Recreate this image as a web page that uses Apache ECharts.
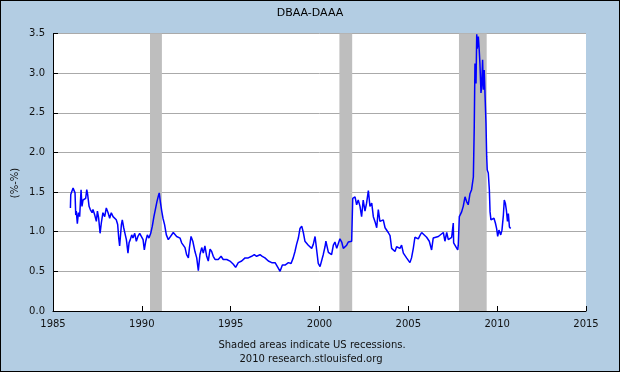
<!DOCTYPE html>
<html>
<head>
<meta charset="utf-8">
<script src="https://cdn.jsdelivr.net/npm/echarts@6/dist/echarts.min.js"></script>
<style>
html,body{margin:0;padding:0;background:#B3CDE3;}
#chart{position:absolute;left:0;top:0;width:620px;height:372px;}
#frame{position:absolute;left:0;top:0;width:620px;height:372px;box-sizing:border-box;border:1px solid #000;pointer-events:none;}
</style>
</head>
<body>
<div id="chart"></div>
<div id="frame"></div>
<script>
const years = [
1985.98,1986.00,1986.05,1986.13,1986.18,1986.24,1986.28,1986.31,1986.37,1986.43,
1986.50,1986.58,1986.63,1986.69,1986.76,1986.84,1986.90,1986.95,1987.03,1987.10,
1987.20,1987.25,1987.35,1987.44,1987.50,1987.57,1987.65,1987.72,1987.81,1987.91,
1988.00,1988.10,1988.19,1988.28,1988.38,1988.47,1988.56,1988.64,1988.70,1988.75,
1988.85,1988.90,1988.98,1989.05,1989.13,1989.22,1989.28,1989.35,1989.43,1989.50,
1989.60,1989.69,1989.78,1989.88,1989.97,1990.07,1990.14,1990.22,1990.31,1990.40,
1990.50,1990.59,1990.68,1990.78,1990.85,1990.93,1990.98,1991.04,1991.12,1991.19,
1991.28,1991.38,1991.49,1991.59,1991.77,1991.96,1992.15,1992.24,1992.33,1992.43,
1992.52,1992.62,1992.68,1992.77,1992.87,1992.99,1993.09,1993.18,1993.27,1993.37,
1993.46,1993.55,1993.65,1993.74,1993.84,1993.93,1994.02,1994.12,1994.30,1994.46,
1994.58,1994.78,1994.96,1995.15,1995.28,1995.43,1995.62,1995.81,1995.99,1996.18,
1996.33,1996.46,1996.65,1996.78,1996.93,1997.12,1997.31,1997.50,1997.68,1997.78,
1997.91,1998.06,1998.25,1998.40,1998.52,1998.62,1998.71,1998.81,1998.90,1999.00,
1999.09,1999.18,1999.37,1999.56,1999.65,1999.75,1999.80,1999.93,2000.03,2000.21,
2000.31,2000.36,2000.50,2000.68,2000.78,2000.87,2000.97,2001.06,2001.15,2001.25,
2001.34,2001.53,2001.62,2001.81,2001.87,2002.00,2002.09,2002.18,2002.28,2002.37,
2002.46,2002.56,2002.65,2002.75,2002.84,2002.94,2003.03,2003.12,2003.22,2003.31,
2003.40,2003.50,2003.59,2003.69,2003.78,2003.87,2003.97,2004.06,2004.15,2004.25,
2004.34,2004.43,2004.53,2004.62,2004.72,2004.81,2004.90,2005.00,2005.09,2005.18,
2005.28,2005.37,2005.46,2005.56,2005.65,2005.75,2005.84,2006.03,2006.18,2006.31,
2006.40,2006.50,2006.69,2006.97,2007.06,2007.16,2007.25,2007.34,2007.44,2007.53,
2007.55,2007.68,2007.78,2007.81,2007.87,2008.00,2008.09,2008.19,2008.28,2008.37,
2008.47,2008.56,2008.66,2008.71,2008.75,2008.81,2008.85,2008.88,2008.94,2008.99,
2009.03,2009.09,2009.13,2009.18,2009.22,2009.27,2009.33,2009.37,2009.41,2009.44,
2009.50,2009.56,2009.60,2009.65,2009.75,2009.82,2009.90,2009.97,2010.03,2010.10,
2010.20,2010.27,2010.35,2010.40,2010.46,2010.52,2010.58,2010.63,2010.69,2010.76
];
// DBAA-DAAA spread values (%-%)
const spread = [
1.30,1.47,1.45,1.55,1.57,1.49,1.21,1.26,1.10,1.24,
1.19,1.53,1.32,1.40,1.38,1.42,1.53,1.47,1.32,1.28,
1.24,1.28,1.21,1.13,1.26,1.17,0.98,1.11,1.24,1.19,
1.30,1.24,1.17,1.24,1.19,1.21,1.15,1.09,0.92,0.82,
1.09,1.15,1.05,0.98,0.90,0.73,0.86,0.90,0.96,0.92,
0.98,0.88,0.94,0.98,0.96,0.90,0.77,0.88,0.96,0.92,
0.98,1.07,1.19,1.30,1.38,1.45,1.49,1.38,1.26,1.17,
1.09,0.96,0.90,0.88,0.99,0.94,0.92,0.86,0.84,0.80,
0.71,0.67,0.80,0.94,0.88,0.75,0.67,0.51,0.71,0.80,
0.73,0.82,0.69,0.63,0.78,0.75,0.69,0.65,0.65,0.69,
0.65,0.65,0.63,0.59,0.55,0.61,0.63,0.67,0.67,0.69,
0.71,0.69,0.71,0.69,0.67,0.63,0.61,0.61,0.54,0.50,
0.58,0.58,0.61,0.60,0.67,0.75,0.84,0.92,1.04,1.07,
0.99,0.88,0.83,0.79,0.84,0.94,0.96,0.60,0.56,0.71,
0.81,0.88,0.74,0.71,0.83,0.87,0.79,0.77,0.91,0.87,
0.79,0.83,0.87,0.88,1.42,1.44,1.34,1.40,1.32,1.19,
1.40,1.26,1.36,1.52,1.32,1.36,1.19,1.13,1.05,1.28,
1.13,1.11,1.15,1.05,1.06,0.99,0.95,0.79,0.81,0.75,
0.81,0.83,0.79,0.83,0.73,0.71,0.67,0.69,0.61,0.67,
0.79,0.93,0.91,0.91,0.95,0.99,0.99,0.93,0.88,0.77,
0.92,0.93,0.94,0.99,0.88,0.99,0.90,0.91,0.93,1.11,
0.86,0.81,0.77,0.83,1.19,1.25,1.32,1.44,1.38,1.34,
1.48,1.53,1.69,2.32,3.12,2.87,3.49,3.31,3.46,3.29,
3.12,2.75,2.85,3.17,2.79,3.04,2.64,2.37,1.95,1.78,
1.74,1.53,1.25,1.15,1.13,1.17,1.11,1.04,0.94,1.02,
0.96,1.02,1.21,1.40,1.36,1.27,1.13,1.23,1.06,1.04
];
// Recession periods (start, end) in decimal years
const recessionStart = [1990.46, 2001.12, 2007.85];
const recessionEnd   = [1991.13, 2001.84, 2009.41];
const xTicks = [1985, 2015, 5];   // min, max, step
const yTicks = [0, 3.5, 0.5];      // min, max, step

const FONT = 'DejaVu Sans';
const chart = echarts.init(document.getElementById('chart'), null, {renderer: 'canvas'});
const lineData = years.map((y, i) => [y, spread[i]]);
const areas = recessionStart.map((s, i) => [{xAxis: s}, {xAxis: recessionEnd[i]}]);

chart.setOption({
  backgroundColor: '#B3CDE3',
  animation: false,
  title: {
    text: 'DBAA-DAAA', left: 'center', top: 3,
    textStyle: {fontFamily: FONT, fontSize: 11, fontWeight: 'normal', color: '#000'}
  },
  grid: {left: 53, right: 34, top: 33.5, bottom: 61, show: true, backgroundColor: '#ffffff', borderWidth: 0},
  xAxis: {
    type: 'value', min: xTicks[0], max: xTicks[1], interval: xTicks[2],
    axisLine: {show: true, lineStyle: {color: '#000', width: 1}},
    axisTick: {show: true, inside: true, length: 5, lineStyle: {color: '#000'}},
    axisLabel: {fontFamily: FONT, fontSize: 10, color: '#111', margin: 8, formatter: v => String(v)},
    splitLine: {show: false}
  },
  yAxis: {
    type: 'value', min: yTicks[0], max: yTicks[1], interval: yTicks[2],
    axisLine: {show: true, lineStyle: {color: '#000', width: 1}},
    axisTick: {show: true, inside: true, length: 5, lineStyle: {color: '#000'}},
    axisLabel: {fontFamily: FONT, fontSize: 10, color: '#111', margin: 8, formatter: v => v.toFixed(1)},
    splitLine: {show: true, lineStyle: {color: '#AAAAAA', width: 1}}
  },
  graphic: [
    {type: 'text', x: 15, y: 183, rotation: Math.PI / 2,
     style: {text: '(%-%)', fontFamily: FONT, fontSize: 10, fill: '#111', align: 'center', verticalAlign: 'middle'}},
    {type: 'text', x: 312, y: 345,
     style: {text: 'Shaded areas indicate US recessions.', fontFamily: FONT, fontSize: 10, fill: '#111', align: 'center', verticalAlign: 'middle'}},
    {type: 'text', x: 311, y: 359,
     style: {text: '2010 research.stlouisfed.org', fontFamily: FONT, fontSize: 10, fill: '#111', align: 'center', verticalAlign: 'middle'}}
  ],
  series: [{
    type: 'line',
    data: lineData,
    showSymbol: false,
    symbol: 'none',
    lineStyle: {color: '#0000FF', width: 1.5},
    markArea: {
      silent: true,
      itemStyle: {color: '#BEBEBE'},
      data: areas
    }
  }]
});
</script>
</body>
</html>
